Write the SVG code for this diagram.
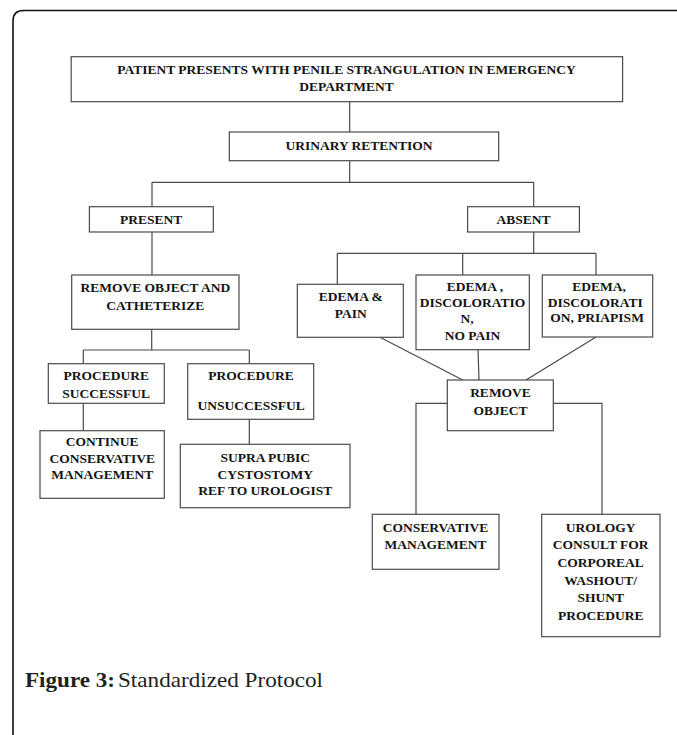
<svg xmlns="http://www.w3.org/2000/svg" width="677" height="735" viewBox="0 0 677 735">
<style>
.box{fill:#fff;stroke:#4a4a4a;stroke-width:1.2}
.t{font-family:"Liberation Serif","Times New Roman",serif;font-weight:bold;font-size:13.5px;fill:#141414;text-anchor:middle}
.c{fill:none;stroke:#4a4a4a;stroke-width:1.2}
.cap{font-family:"Liberation Serif","Times New Roman",serif;font-size:21px;fill:#231f20}
</style>
<rect width="677" height="735" fill="#fff"/>
<path d="M13 735 V21 Q13 10.5 23.5 10.5 H677" fill="none" stroke="#111" stroke-width="1.6"/>
<g id="connectors">
<path class="c" d="M349.7 101.7 V132"/>
<path class="c" d="M349.7 160.7 V182.3 M152 182.3 H533.7 M152 182.3 V206.7 M533.7 182.3 V206.7"/>
<path class="c" d="M152 232 V275"/>
<path class="c" d="M151.7 329.3 V350 M83.3 350 H249.3 M83.3 350 V363.7 M249.3 350 V363.7"/>
<path class="c" d="M83.3 403.3 V430.7"/>
<path class="c" d="M249.3 419.3 V444.3"/>
<path class="c" d="M533.7 232 V253.3 M337.3 253.3 H596 M337.3 253.3 V284.3 M462.7 253.3 V275 M596 253.3 V275"/>
<path class="c" d="M380 337.3 L462.7 380 M477.7 339.3 L479 380 M596 337 L526 380"/>
<path class="c" d="M447.3 403.3 H416 V514.3 M553.3 403.3 H602 V514.3"/>
</g>
<g id="patient">
<rect class="box" x="71.2" y="56.7" width="551.4" height="45"/>
<text class="t" x="346.5" y="73.5">PATIENT PRESENTS WITH PENILE STRANGULATION IN EMERGENCY</text>
<text class="t" x="346.5" y="90.9">DEPARTMENT</text>
</g>
<g id="retention">
<rect class="box" x="229.3" y="132" width="269.4" height="28.7"/>
<text class="t" x="359" y="149.5">URINARY RETENTION</text>
</g>
<g id="present">
<rect class="box" x="89.4" y="206.7" width="123.9" height="25.3"/>
<text class="t" x="151.1" y="224.3">PRESENT</text>
</g>
<g id="absent">
<rect class="box" x="467.6" y="206.7" width="111.8" height="25.3"/>
<text class="t" x="523.5" y="224.3">ABSENT</text>
</g>
<g id="remove-catheterize">
<rect class="box" x="71.7" y="275" width="167.3" height="54.3"/>
<text class="t" x="155.3" y="292.3">REMOVE OBJECT AND</text>
<text class="t" x="155.3" y="310">CATHETERIZE</text>
</g>
<g id="successful">
<rect class="box" x="48.3" y="363.7" width="116" height="39.6"/>
<text class="t" x="106.2" y="380">PROCEDURE</text>
<text class="t" x="106.2" y="397.7">SUCCESSFUL</text>
</g>
<g id="unsuccessful">
<rect class="box" x="187.7" y="363.7" width="126" height="55.6"/>
<text class="t" x="251.1" y="380">PROCEDURE</text>
<text class="t" x="251.1" y="410">UNSUCCESSFUL</text>
</g>
<g id="continue">
<rect class="box" x="40" y="430.7" width="124.3" height="67.6"/>
<text class="t" x="102.2" y="445.7">CONTINUE</text>
<text class="t" x="102.2" y="462.7">CONSERVATIVE</text>
<text class="t" x="102.2" y="478.7">MANAGEMENT</text>
</g>
<g id="suprapubic">
<rect class="box" x="180.3" y="444.3" width="169.7" height="63.4"/>
<text class="t" x="265.3" y="462.3">SUPRA PUBIC</text>
<text class="t" x="265.3" y="479">CYSTOSTOMY</text>
<text class="t" x="265.3" y="495">REF TO UROLOGIST</text>
</g>
<g id="edema-pain">
<rect class="box" x="297.3" y="284.3" width="106" height="53"/>
<text class="t" x="350.8" y="301">EDEMA &amp;</text>
<text class="t" x="350.8" y="318.3">PAIN</text>
</g>
<g id="edema-nopain">
<rect class="box" x="416" y="275" width="113.3" height="74.7"/>
<text class="t" x="475" y="290.7">EDEMA ,</text>
<text class="t" x="472.5" y="306.7">DISCOLORATIO</text>
<text class="t" x="467" y="323.3">N,</text>
<text class="t" x="472.5" y="340">NO PAIN</text>
</g>
<g id="edema-priapism">
<rect class="box" x="542.3" y="275" width="110.4" height="62"/>
<text class="t" x="599" y="290.7">EDEMA,</text>
<text class="t" x="595.3" y="306.7">DISCOLORATI</text>
<text class="t" x="597" y="322.3">ON, PRIAPISM</text>
</g>
<g id="remove-object">
<rect class="box" x="447.3" y="380" width="106" height="50.7"/>
<text class="t" x="500.5" y="397.3">REMOVE</text>
<text class="t" x="500.5" y="415">OBJECT</text>
</g>
<g id="conservative">
<rect class="box" x="372.3" y="514.3" width="126.7" height="55"/>
<text class="t" x="435.5" y="531.7">CONSERVATIVE</text>
<text class="t" x="435.5" y="549">MANAGEMENT</text>
</g>
<g id="urology">
<rect class="box" x="541.7" y="514.3" width="118.3" height="122.4"/>
<text class="t" x="600.7" y="531.7">UROLOGY</text>
<text class="t" x="600.7" y="549.3">CONSULT FOR</text>
<text class="t" x="600.7" y="567.3">CORPOREAL</text>
<text class="t" x="600.7" y="585">WASHOUT/</text>
<text class="t" x="600.7" y="602.3">SHUNT</text>
<text class="t" x="600.7" y="620">PROCEDURE</text>
</g>
<text class="cap" x="25" y="686.7" font-weight="bold" textLength="90" lengthAdjust="spacingAndGlyphs">Figure 3:</text>
<text class="cap" x="118" y="686.7" textLength="205" lengthAdjust="spacingAndGlyphs">Standardized Protocol</text>
</svg>
